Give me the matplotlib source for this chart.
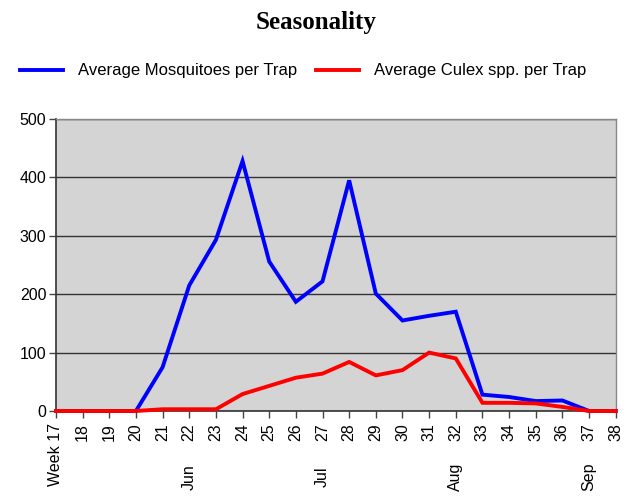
import matplotlib
matplotlib.use("Agg")
import matplotlib.pyplot as plt
from matplotlib.transforms import blended_transform_factory

# weekly averages
weeks = list(range(17, 39))
mosquitoes = [0, 0, 0, 0, 75, 215, 293, 428, 256, 187, 222, 395, 201, 155,
              163, 170, 28, 24, 17, 18, 0, 0]
culex = [0, 0, 0, 0, 3, 3, 3, 29, 43, 57, 64, 84, 61, 70,
         100, 90, 14, 14, 13, 7, 0, 0]
week_labels = ["Week 17"] + [str(w) for w in weeks[1:]]
months = ["Jun", "Jul", "Aug", "Sep"]
month_weeks = [22, 27, 32, 37]

plt.rcParams['font.family'] = ['Liberation Sans', 'DejaVu Sans']

fig = plt.figure(figsize=(6.24, 5.0), dpi=100)
ax = fig.add_axes([0.0897, 0.178, 0.897, 0.584])
ax.set_facecolor('#d4d4d4')

x = list(range(len(weeks)))
ax.plot(x, mosquitoes, color='#0000ff', lw=2.8, label='Average Mosquitoes per Trap',
        solid_joinstyle='miter', clip_on=False, zorder=3)
ax.plot(x, culex, color='#ff0000', lw=2.8, label='Average Culex spp. per Trap',
        solid_joinstyle='miter', clip_on=False, zorder=4)

ax.set_xlim(0, len(weeks) - 1)
ax.set_ylim(0, 500)
ax.set_yticks(range(0, 501, 100))
ax.set_xticks(x)
ax.set_xticklabels(week_labels, rotation=90, fontsize=11.5)
ax.tick_params(axis='y', labelsize=11.5, length=5, width=1, color='#444444', pad=2)
ax.tick_params(axis='x', length=5, width=1, color='#444444', pad=4)
ax.yaxis.grid(True, color='#333333', lw=1)
ax.set_axisbelow(True)
for side in ['left', 'bottom']:
    ax.spines[side].set_color('#333333')
    ax.spines[side].set_linewidth(1.2)
for side in ['top', 'right']:
    ax.spines[side].set_color('#888888')
    ax.spines[side].set_linewidth(1)

# month labels on a second row under the week numbers
month_tr = blended_transform_factory(ax.transData, fig.transFigure)
for m, w in zip(months, month_weeks):
    ax.text(weeks.index(w), 0.046, m, rotation=90, ha='center', va='center',
            fontsize=11.5, transform=month_tr)

fig.text(0.506, 0.956, 'Seasonality', ha='center', va='center', fontsize=18,
         fontweight='bold', family='Liberation Serif')
fig.legend(loc='center', bbox_to_anchor=(0.486, 0.858), ncol=2, frameon=False,
           fontsize=12, handlelength=2.6, handletextpad=0.9, columnspacing=1.1)

fig.savefig('out.png', dpi=100)
